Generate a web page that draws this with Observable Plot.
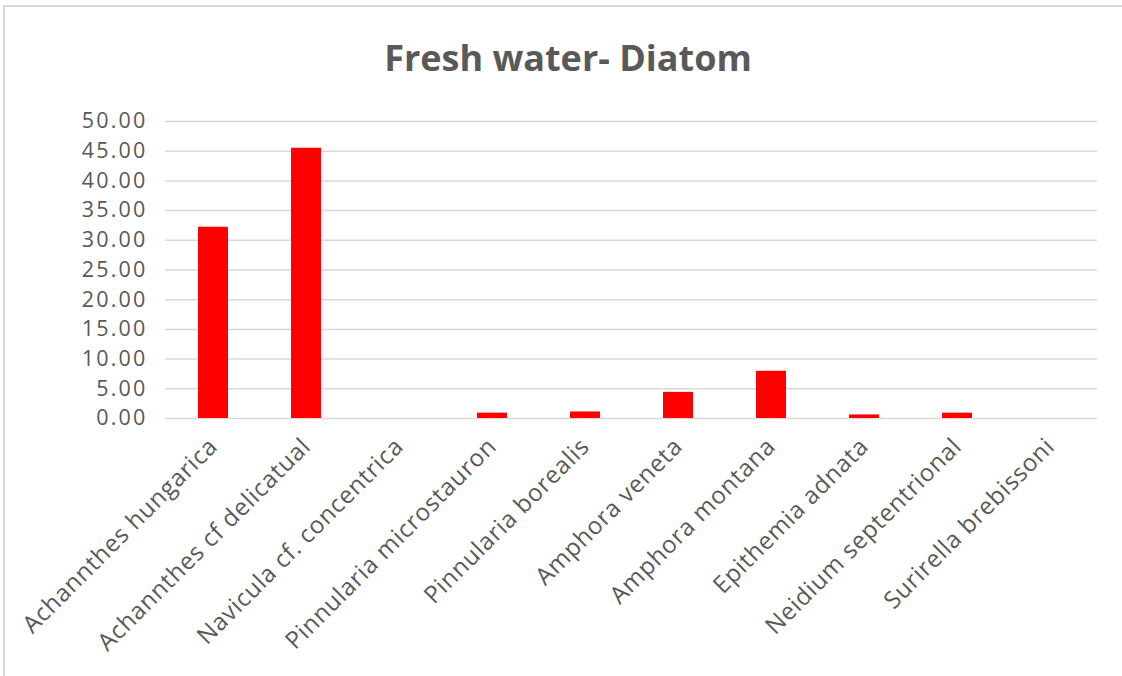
<!DOCTYPE html>
<html>
<head>
<meta charset="utf-8">
<script src="https://cdn.jsdelivr.net/npm/d3@7"></script>
<script src="https://cdn.jsdelivr.net/npm/@observablehq/plot@0.6"></script>
<style>
  html, body { margin: 0; padding: 0; background: #fff; }
  #wrap { position: relative; width: 1122px; height: 676px; overflow: hidden; background: #fff; }
  #frame { position: absolute; left: 3px; top: 5px; width: 1130px; height: 690px; border: 2px solid #d9d9d9; box-sizing: border-box; }
  #title { position: absolute; left: 0; top: 0; width: 1122px; height: 100px; box-sizing: border-box; padding-left: 14px;
           text-align: center; font-family: "Open Sans", sans-serif; font-weight: bold; font-size: 36px; color: #595959; line-height: 116px; }
  #chart { position: absolute; left: 0; top: 100px; }
  .yax text { letter-spacing: 2.2px; }
  .xax text { letter-spacing: 0.7px; }
</style>
</head>
<body>
<div id="wrap">
  <div id="frame"></div>
  <div id="title">Fresh water- Diatom</div>
  <div id="chart"></div>
</div>
<script>
const species = [
  "Achannthes hungarica",
  "Achannthes cf delicatual",
  "Navicula cf. concentrica",
  "Pinnularia microstauron",
  "Pinnularia borealis",
  "Amphora veneta",
  "Amphora montana",
  "Epithemia adnata",
  "Neidium septentrional",
  "Surirella brebissoni"
];
const values = [32.2, 45.5, 0, 0.9, 1.1, 4.4, 7.95, 0.6, 0.9, 0];
const yTicks = [0, 5, 10, 15, 20, 25, 30, 35, 40, 45, 50];

const data = species.map((s, i) => ({species: s, value: values[i]}));

const chart = Plot.plot({
  width: 1122,
  height: 576,
  marginTop: 21,
  marginBottom: 258,
  marginLeft: 165,
  marginRight: 25,
  style: {fontFamily: "Open Sans, sans-serif", color: "#595959", background: "transparent"},
  x: {domain: species, paddingInner: 0.68, paddingOuter: 0.34, label: null},
  y: {domain: [0, 50], label: null},
  marks: [
    Plot.gridY(yTicks, {stroke: "#d9d9d9", strokeOpacity: 1, strokeWidth: 1.5}),
    Plot.barY(data, {x: "species", y: "value", fill: "#ff0000"}),
    Plot.axisY(yTicks, {tickSize: 0, tickPadding: 18, tickFormat: d => d.toFixed(2), fontSize: 21.5, fill: "#595959", className: "yax"}),
    Plot.axisX({tickSize: 0, tickPadding: 24, tickRotate: -45, fontSize: 24, fill: "#595959", className: "xax"})
  ]
});
document.getElementById("chart").appendChild(chart);
</script>
</body>
</html>
